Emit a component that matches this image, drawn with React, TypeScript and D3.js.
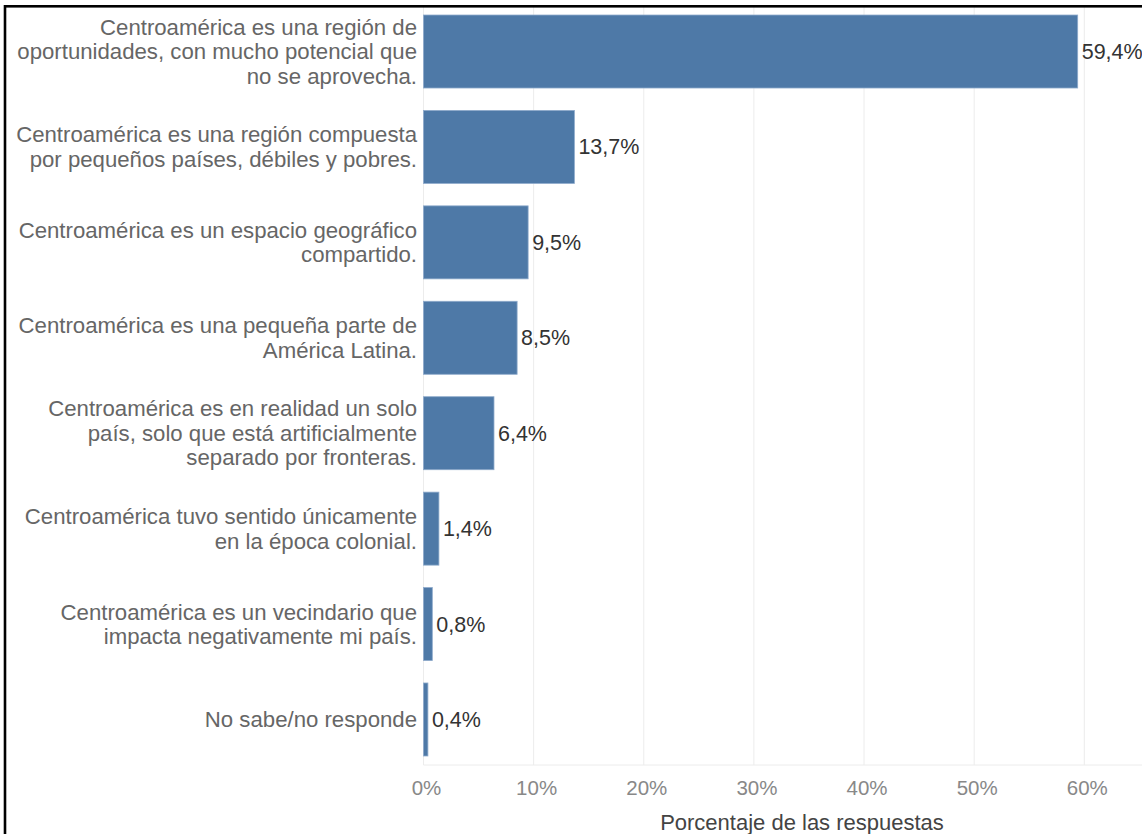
import React from "react";
import * as d3 from "d3";

const categories: string[][] = [
  ["Centroamérica es una región de", "oportunidades, con mucho potencial que", "no se aprovecha."],
  ["Centroamérica es una región compuesta", "por pequeños países, débiles y pobres."],
  ["Centroamérica es un espacio geográfico", "compartido."],
  ["Centroamérica es una pequeña parte de", "América Latina."],
  ["Centroamérica es en realidad un solo", "país, solo que está artificialmente", "separado por fronteras."],
  ["Centroamérica tuvo sentido únicamente", "en la época colonial."],
  ["Centroamérica es un vecindario que", "impacta negativamente mi país."],
  ["No sabe/no responde"],
];
const values: number[] = [59.4, 13.7, 9.5, 8.5, 6.4, 1.4, 0.8, 0.4];
const valueLabels: string[] = ["59,4%", "13,7%", "9,5%", "8,5%", "6,4%", "1,4%", "0,8%", "0,4%"];
const tickValues: number[] = [0, 10, 20, 30, 40, 50, 60];
const tickLabels: string[] = ["0%", "10%", "20%", "30%", "40%", "50%", "60%"];
const axisTitle = "Porcentaje de las respuestas";

const W = 1142;
const H = 834;
const FONT = "'Liberation Sans', Arial, sans-serif";

export default function App() {
  const x = d3.scaleLinear().domain([0, 60]).range([423.5, 1084.3]);
  const idx = d3.range(values.length).map(String);
  const y = d3.scaleBand().domain(idx).range([3.8, 767.2]).paddingInner(0.235).paddingOuter(0.1175);
  const axisY = 765;
  const lineH = 24.5;

  return (
    <svg width={W} height={H} style={{ position: "absolute", left: 0, top: 0, background: "#fff" }} fontFamily={FONT}>
      <rect x={0} y={0} width={W} height={H} fill="#fff" />
      {tickValues.map((t) => (
        <line key={"g" + t} x1={x(t)} x2={x(t)} y1={7} y2={axisY} stroke="#ececec" strokeWidth={1} />
      ))}
      <line x1={x(0)} x2={W} y1={axisY} y2={axisY} stroke="#ececec" strokeWidth={1} />
      {values.map((v, i) => {
        const by = y(String(i))!;
        const bh = y.bandwidth();
        const cy = by + bh / 2;
        const lines = categories[i];
        const startY = cy - ((lines.length - 1) * lineH) / 2;
        return (
          <g key={i}>
            <rect x={x(0)} y={by} width={x(v) - x(0)} height={bh} fill="#4e79a7" stroke="#8eaacb" strokeWidth={0.8} />
            <text x={x(v) + 4} y={cy} dy="0.35em" fontSize={21.5} fill="#333">
              {valueLabels[i]}
            </text>
            <text x={417} y={startY} fontSize={22.2} fill="#666" textAnchor="end">
              {lines.map((l, j) => (
                <tspan key={j} x={417} y={startY + j * lineH} dy="0.35em">
                  {l}
                </tspan>
              ))}
            </text>
          </g>
        );
      })}
      {tickValues.map((t, i) => (
        <text key={"t" + t} x={x(t) + 3} y={788} dy="0.35em" fontSize={20.5} fill="#888" textAnchor="middle">
          {tickLabels[i]}
        </text>
      ))}
      <text x={802} y={822} dy="0.35em" fontSize={22} fill="#444" textAnchor="middle">
        {axisTitle}
      </text>
      <rect x={5} y={6.3} width={W + 20} height={H + 20} fill="none" stroke="#000" strokeWidth={2.6} />
    </svg>
  );
}
